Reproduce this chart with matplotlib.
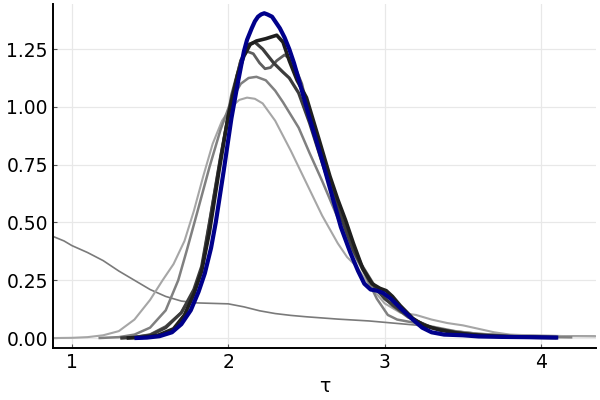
import matplotlib.pyplot as plt
import numpy as np

# Figure settings
figsize = (6, 4)
dpi = 100
fontsize = 13.5
grid_color = '#e8e8e8'

# Density curves, widest first, final one in blue
wide_x = [0.878, 0.95, 1.0, 1.1, 1.2, 1.3, 1.4, 1.5, 1.6, 1.7, 1.8, 1.9, 2.0, 2.1, 2.2, 2.3, 2.4,
          2.5, 2.6, 2.7, 2.8, 2.9, 3.0, 3.1, 3.2, 3.3, 3.4, 3.5, 3.6, 3.8, 4.0, 4.2, 4.35]
wide_y = [0.44, 0.42, 0.40, 0.37, 0.335, 0.29, 0.25, 0.21, 0.18, 0.16, 0.152, 0.15, 0.148, 0.135,
          0.118, 0.106, 0.098, 0.092, 0.087, 0.082, 0.078, 0.074, 0.068, 0.062, 0.056, 0.045,
          0.035, 0.027, 0.02, 0.014, 0.011, 0.009, 0.008]

light_x = [0.878, 1.0, 1.1, 1.2, 1.3, 1.4, 1.5, 1.58, 1.65, 1.72, 1.78, 1.84, 1.9, 1.96, 2.02,
           2.07, 2.12, 2.17, 2.22, 2.3, 2.4, 2.5, 2.6, 2.7, 2.76, 2.82, 2.9, 3.0, 3.1, 3.2, 3.3,
           3.4, 3.5, 3.6, 3.7, 3.8, 4.0, 4.2, 4.35]
light_y = [0.0, 0.001, 0.004, 0.012, 0.03, 0.08, 0.165, 0.25, 0.32, 0.42, 0.55, 0.70, 0.84, 0.94,
           1.0, 1.03, 1.04, 1.035, 1.015, 0.94, 0.81, 0.67, 0.53, 0.41, 0.35, 0.31, 0.23, 0.15,
           0.11, 0.10, 0.08, 0.065, 0.055, 0.04, 0.025, 0.015, 0.01, 0.008, 0.007]

mid_x = [1.17, 1.3, 1.4, 1.5, 1.6, 1.68, 1.735, 1.8, 1.88, 1.95, 2.02, 2.08, 2.13, 2.18, 2.24,
         2.3, 2.35, 2.45, 2.52, 2.6, 2.7, 2.8, 2.87, 2.95, 3.02, 3.08, 3.2, 3.3, 3.45, 3.6, 3.8,
         4.0, 4.2]
mid_y = [0.0, 0.004, 0.015, 0.045, 0.12, 0.25, 0.38, 0.54, 0.74, 0.90, 1.03, 1.10, 1.125, 1.13,
         1.115, 1.07, 1.02, 0.91, 0.80, 0.68, 0.52, 0.37, 0.28, 0.17, 0.10, 0.08, 0.065, 0.05,
         0.03, 0.018, 0.01, 0.005, 0.003]

dip_x = [1.31, 1.4, 1.5, 1.6, 1.7, 1.78, 1.83, 1.88, 1.95, 2.02, 2.08, 2.12, 2.16, 2.2, 2.235,
         2.27, 2.31, 2.36, 2.41, 2.47, 2.55, 2.65, 2.75, 2.85, 2.95, 3.05, 3.15, 3.3, 3.5, 3.7,
         3.9, 4.1]
dip_y = [0.0, 0.004, 0.015, 0.05, 0.11, 0.2, 0.3, 0.5, 0.78, 1.05, 1.2, 1.24, 1.23, 1.19, 1.165,
         1.17, 1.2, 1.225, 1.2, 1.1, 0.88, 0.66, 0.48, 0.32, 0.21, 0.14, 0.09, 0.045, 0.02,
         0.01, 0.005, 0.003]

dark_x = [1.31, 1.4, 1.5, 1.6, 1.7, 1.78, 1.83, 1.88, 1.95, 2.02, 2.08, 2.13, 2.17, 2.22, 2.29,
          2.35, 2.39, 2.45, 2.52, 2.6, 2.7, 2.8, 2.9, 3.0, 3.1, 3.2, 3.3, 3.45, 3.6, 3.8, 4.0]
dark_y = [0.0, 0.003, 0.012, 0.045, 0.11, 0.21, 0.31, 0.5, 0.78, 1.03, 1.2, 1.27, 1.28, 1.25,
          1.19, 1.15, 1.125, 1.06, 0.93, 0.76, 0.56, 0.38, 0.25, 0.17, 0.12, 0.075, 0.045,
          0.025, 0.012, 0.006, 0.003]

black_x = [1.35, 1.45, 1.55, 1.65, 1.72, 1.78, 1.83, 1.88, 1.94, 2.0, 2.06, 2.1, 2.14, 2.18,
           2.24, 2.31, 2.35, 2.39, 2.44, 2.5, 2.58, 2.65, 2.7, 2.75, 2.8, 2.86, 2.92, 2.97, 3.01,
           3.05, 3.1, 3.18, 3.25, 3.35, 3.45, 3.55, 3.7, 3.9, 4.1]
black_y = [0.0, 0.003, 0.012, 0.04, 0.1, 0.19, 0.29, 0.46, 0.72, 0.96, 1.14, 1.22, 1.27, 1.285,
           1.295, 1.31, 1.28, 1.2, 1.115, 1.04, 0.86, 0.70, 0.60, 0.51, 0.41, 0.30, 0.235,
           0.215, 0.205, 0.18, 0.14, 0.085, 0.055, 0.035, 0.023, 0.015, 0.008, 0.004, 0.002]

blue_x = [1.40, 1.48, 1.56, 1.64, 1.70, 1.76, 1.81, 1.85, 1.89, 1.92, 1.97, 2.02, 2.06, 2.08,
          2.10, 2.12, 2.15, 2.17, 2.19, 2.21, 2.23, 2.25, 2.28, 2.30, 2.33, 2.36, 2.39, 2.42,
          2.45, 2.52, 2.60, 2.67, 2.72, 2.78, 2.83, 2.87, 2.91, 2.95, 2.99, 3.04, 3.10, 3.18,
          3.24, 3.30, 3.38, 3.50, 3.60, 3.75, 3.90, 4.11]
blue_y = [0.0, 0.002, 0.008, 0.025, 0.06, 0.12, 0.2, 0.28, 0.39, 0.5, 0.72, 0.95, 1.1, 1.17,
          1.24, 1.29, 1.34, 1.37, 1.39, 1.40, 1.405, 1.40, 1.39, 1.37, 1.34, 1.30, 1.25, 1.19,
          1.12, 0.95, 0.77, 0.60, 0.48, 0.37, 0.29, 0.235, 0.21, 0.205, 0.195, 0.17, 0.13,
          0.08, 0.045, 0.025, 0.015, 0.012, 0.007, 0.005, 0.004, 0.002]

series = [
    (wide_x, wide_y, '#7a7a7a', 1.2),
    (light_x, light_y, '#a6a6a6', 1.5),
    (mid_x, mid_y, '#808080', 1.8),
    (dip_x, dip_y, '#5e5e5e', 2.0),
    (dark_x, dark_y, '#3c3c3c', 2.3),
    (black_x, black_y, '#1e1e1e', 2.6),
    (blue_x, blue_y, '#00008b', 3.0),
]

fig = plt.figure(figsize=figsize, dpi=dpi)
ax = fig.add_axes([0.088, 0.13, 0.905, 0.86])

for xs, ys, color, lw in series:
    ax.plot(xs, ys, color=color, linewidth=lw, solid_capstyle='butt', solid_joinstyle='round')

ax.set_xlim(0.878, 4.35)
ax.set_ylim(-0.043, 1.445)
ax.set_xticks([1, 2, 3, 4])
ax.set_yticks([0.0, 0.25, 0.5, 0.75, 1.0, 1.25])
ax.set_yticklabels(['0.00', '0.25', '0.50', '0.75', '1.00', '1.25'])
ax.tick_params(labelsize=fontsize, direction='in', length=3, width=0.8, color='#555555')
ax.grid(True, color=grid_color, linewidth=0.9)
ax.set_axisbelow(True)

for side in ['top', 'right']:
    ax.spines[side].set_visible(False)
for side in ['left', 'bottom']:
    ax.spines[side].set_linewidth(1.4)

ax.set_xlabel('τ', fontsize=fontsize, labelpad=4)

plt.savefig('out.png', dpi=dpi)
